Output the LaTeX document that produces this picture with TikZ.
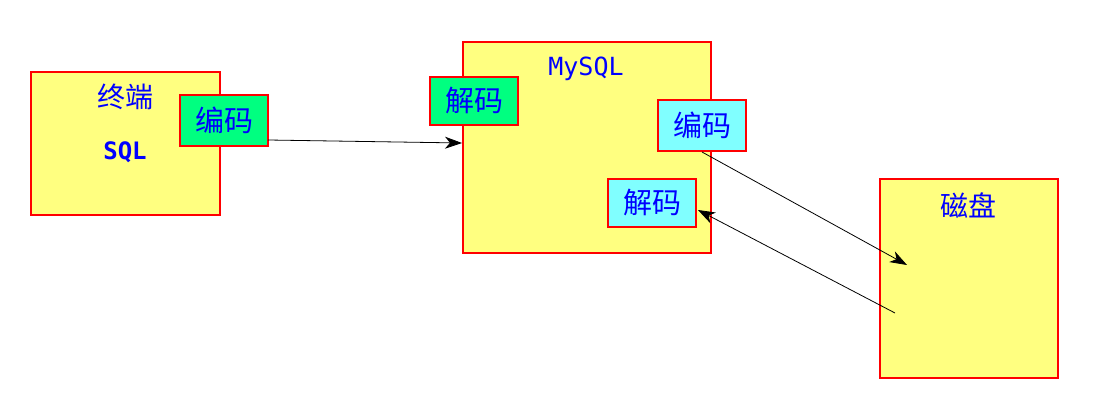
\documentclass[tikz,border=0pt]{standalone}
\usepackage{fontspec}
\newfontfamily\cjk{Noto Sans CJK SC}
\newfontfamily\monof{DejaVu Sans Mono}
\usetikzlibrary{arrows.meta}
\definecolor{boxyellow}{RGB}{255,255,128}
\definecolor{boxgreen}{RGB}{0,255,128}
\definecolor{boxcyan}{RGB}{128,255,255}
\definecolor{txtblue}{RGB}{0,0,255}
\tikzset{
  bigbox/.style={draw=red, line width=1.6pt, fill=boxyellow, inner sep=0pt},
  codebox/.style={draw=red, line width=1.6pt, inner sep=0pt, minimum width=88pt, minimum height=49pt,
    font=\cjk\fontsize{29}{32}\selectfont, text=txtblue},
  lbl/.style={text=txtblue, inner sep=0pt},
  conn/.style={-{Stealth[length=17pt,width=12pt,inset=5pt]}, line width=0.8pt, black}
}
\begin{document}
\begin{tikzpicture}[x=1pt,y=-1pt]
\useasboundingbox (0,0) rectangle (1093,406);
% terminal
\node[bigbox, minimum width=189pt, minimum height=143pt] (term) at (125.5,143.5) {};
\node[lbl, font=\cjk\fontsize{28}{30}\selectfont] (termlbl) at (125,97) {终端};
\node[lbl, font=\monof\bfseries\fontsize{24}{26}\selectfont] (sql) at (125,152) {SQL};
\node[codebox, fill=boxgreen, minimum height=51pt] (enc1) at (224,120.5) {编码};
% mysql
\node[bigbox, minimum width=248pt, minimum height=211pt] (mysql) at (587,147.5) {};
\node[lbl, font=\monof\fontsize{25}{28}\selectfont] (mysqllbl) at (586,69) {MySQL};
\node[codebox, fill=boxgreen, minimum height=48pt] (dec1) at (474,101) {解码};
\node[codebox, fill=boxcyan, minimum height=51pt] (enc2) at (702,125.5) {编码};
\node[codebox, fill=boxcyan, minimum height=48pt] (dec2) at (652,203) {解码};
% disk
\node[bigbox, minimum width=178pt, minimum height=199pt] (disk) at (969,278.5) {};
\node[lbl, font=\cjk\fontsize{28}{30}\selectfont] (disklbl) at (968,205) {磁盘};
% connectors
\coordinate (a1s) at (268,140);
\coordinate (a1e) at (462,143);
\coordinate (a2s) at (702,152);
\coordinate (a2e) at (907,265);
\coordinate (a3s) at (895,313);
\coordinate (a3e) at (698,210);
\draw[conn] (a1s) -- (a1e);
\draw[conn] (a2s) -- (a2e);
\draw[conn] (a3s) -- (a3e);
\end{tikzpicture}
\end{document}
